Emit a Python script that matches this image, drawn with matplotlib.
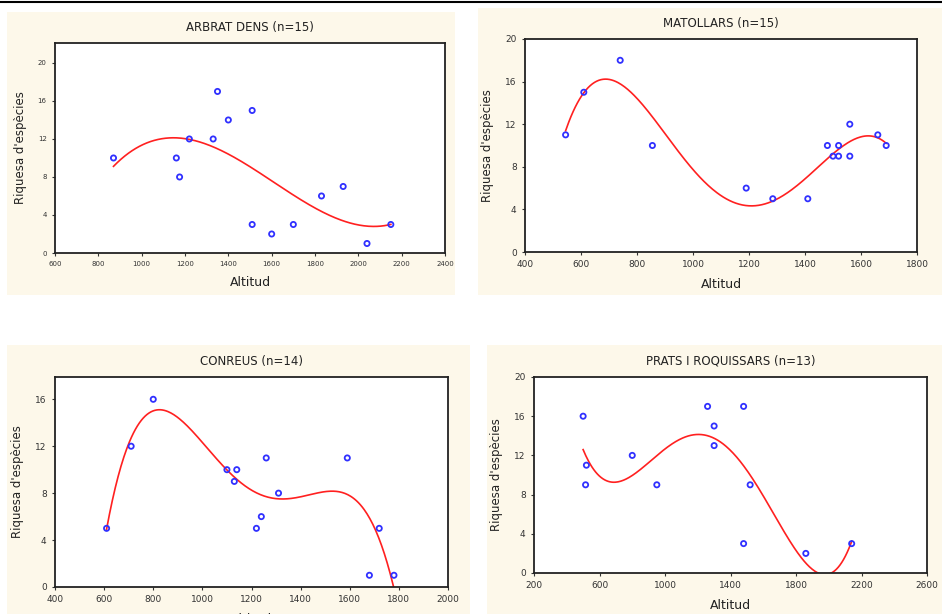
import numpy as np
import matplotlib.pyplot as plt
from matplotlib.patches import Rectangle

# ARBRAT DENS
arbrat_x = [870, 1160, 1175, 1220, 1330, 1350, 1400, 1510, 1510, 1600, 1700, 1830, 1930, 2040, 2150]
arbrat_y = [10, 10, 8, 12, 12, 17, 14, 15, 3, 2, 3, 6, 7, 1, 3]
# MATOLLARS
matol_x = [545, 610, 740, 855, 1190, 1285, 1410, 1480, 1500, 1520, 1520, 1560, 1560, 1660, 1690]
matol_y = [11, 15, 18, 10, 6, 5, 5, 10, 9, 10, 9, 12, 9, 11, 10]
# CONREUS
conr_x = [610, 710, 800, 1100, 1130, 1140, 1220, 1240, 1260, 1310, 1590, 1680, 1720, 1780]
conr_y = [5, 12, 16, 10, 9, 10, 5, 6, 11, 8, 11, 1, 5, 1]
# PRATS I ROQUISSARS
prats_x = [500, 520, 515, 800, 950, 1260, 1300, 1300, 1480, 1480, 1520, 1860, 2140]
prats_y = [16, 11, 9, 12, 9, 17, 15, 13, 17, 3, 9, 2, 3]

W, H = 942, 614
fig = plt.figure(figsize=(9.42, 6.14), dpi=100)
fig.patch.set_facecolor('white')

def px(l, t, r, b):
    return [l / W, 1 - b / H, (r - l) / W, (b - t) / H]

# black line along the top
fig.add_artist(plt.Line2D([0, 1], [1 - 1.5 / H] * 2, color='black', lw=1.5))

panels = [
    dict(title='ARBRAT DENS (n=15)', x=arbrat_x, y=arbrat_y, deg=3,
         bg=(7, 12, 455, 295), ax=(55, 43, 445, 253), xlim=(600, 2400), xt=200,
         ylim=(0, 22.1), yt=[0, 4, 8, 12, 16, 20], fs=5, label_x=True),
    dict(title='MATOLLARS (n=15)', x=matol_x, y=matol_y, deg=4,
         bg=(478, 8, 942, 295), ax=(525, 39, 917, 252), xlim=(400, 1800), xt=200,
         ylim=(0, 20), yt=[0, 4, 8, 12, 16, 20], fs=6.5, label_x=True),
    dict(title='CONREUS (n=14)', x=conr_x, y=conr_y, deg=4,
         bg=(7, 345, 470, 614), ax=(55, 377, 448, 587), xlim=(400, 2000), xt=200,
         ylim=(0, 17.9), yt=[0, 4, 8, 12, 16], fs=6.5, label_x=True),
    dict(title='PRATS I ROQUISSARS (n=13)', x=prats_x, y=prats_y, deg=4,
         bg=(487, 345, 942, 614), ax=(534, 377, 927, 573), xlim=(200, 2600), xt=400,
         ylim=(0, 20), yt=[0, 4, 8, 12, 16, 20], fs=6.5, label_x=True),
]

for p in panels:
    l, t, r, b = p['bg']
    fig.add_artist(Rectangle((l / W, 1 - b / H), (r - l) / W, (b - t) / H,
                             transform=fig.transFigure, facecolor='#fdf8ea',
                             edgecolor='none', zorder=0))
    ax = fig.add_axes(px(*p['ax']))
    ax.set_facecolor('white')
    x = np.array(p['x'], float)
    y = np.array(p['y'], float)
    coef = np.polyfit(x, y, p['deg'])
    xs = np.linspace(x.min(), x.max(), 300)
    ax.plot(xs, np.polyval(coef, xs), color='#ff2020', lw=1.2)
    ax.scatter(x, y, s=14, facecolors='none', edgecolors='#3030ff', linewidths=1.3, zorder=3)
    ax.set_xlim(*p['xlim'])
    ax.set_ylim(*p['ylim'])
    ax.set_xticks(np.arange(p['xlim'][0], p['xlim'][1] + 1, p['xt']))
    ax.set_yticks(p['yt'])
    ax.tick_params(labelsize=p['fs'], length=2.5, color='#333333', labelcolor='#333333')
    for s in ax.spines.values():
        s.set_linewidth(1.3)
        s.set_color('#222222')
    ax.set_title(p['title'], fontsize=8.5, color='#222222', pad=9)
    ax.set_xlabel('Altitud', fontsize=9, color='#222222', labelpad=6)
    ax.set_ylabel("Riquesa d'espècies", fontsize=8.5, color='#222222', labelpad=8)

fig.savefig('out.png', dpi=100)
